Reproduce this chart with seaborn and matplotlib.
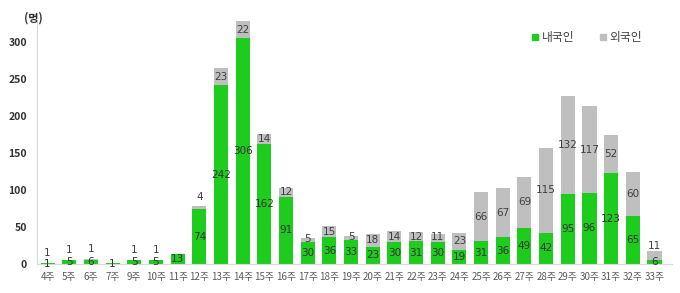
import matplotlib
matplotlib.use("Agg")
import matplotlib.pyplot as plt
import seaborn as sns
import pandas as pd
from matplotlib.lines import Line2D

weeks = ["4주", "5주", "6주", "7주", "9주", "10주", "11주", "12주", "13주", "14주",
         "15주", "16주", "17주", "18주", "19주", "20주", "21주", "22주", "23주", "24주",
         "25주", "26주", "27주", "28주", "29주", "30주", "31주", "32주", "33주"]
domestic = [1, 5, 6, 1, 5, 5, 13, 74, 242, 306,
            162, 91, 30, 36, 33, 23, 30, 31, 30, 19,
            31, 36, 49, 42, 95, 96, 123, 65, 6]
foreign = [1, 1, 1, 0, 1, 1, 0, 4, 23, 22,
           14, 12, 5, 15, 5, 18, 14, 12, 11, 23,
           66, 67, 69, 115, 132, 117, 52, 60, 11]

sns.set_theme(style="white")
plt.rcParams["font.family"] = ["Noto Sans CJK KR", "DejaVu Sans"]

GREEN = "#1ECC1E"
GRAY = "#BFBFBF"

df = pd.DataFrame({"week": weeks, "domestic": domestic, "foreign": foreign})
df["total"] = df["domestic"] + df["foreign"]

fig = plt.figure(figsize=(6.8, 2.93), dpi=100)
ax = fig.add_axes([0.054, 0.099, 0.934, 0.833])

sns.barplot(data=df, x="week", y="total", order=weeks, color=GRAY, width=0.65,
            saturation=1, ax=ax, linewidth=0)
sns.barplot(data=df, x="week", y="domestic", order=weeks, color=GREEN, width=0.65,
            saturation=1, ax=ax, linewidth=0)

lab_color = "#404040"
for i, (d, f) in enumerate(zip(domestic, foreign)):
    if d > 0:
        ax.text(i, d / 2, str(d), ha="center", va="center", fontsize=7.5,
                color="#333333", family=["DejaVu Sans"])
    if f > 0:
        if f < 5:
            y = d + f + 13
        elif d < 10:
            y = d + f + 7
        elif f < 12:
            y = d + f * 0.65
        else:
            y = d + f / 2
        ax.text(i, y, str(f), ha="center", va="center", fontsize=7.5,
                color=lab_color, family=["DejaVu Sans"])

ax.set_ylim(0, 330)
ax.set_xlim(-0.5, len(weeks) - 0.2)
ax.set_yticks([0, 50, 100, 150, 200, 250, 300])
ax.set_xlabel("")
ax.set_ylabel("")
for s in ["top", "right"]:
    ax.spines[s].set_visible(False)
for s in ["left", "bottom"]:
    ax.spines[s].set_color("#D9D9D9")
    ax.spines[s].set_linewidth(0.8)
ax.tick_params(axis="x", labelsize=7, colors="#595959", length=0, pad=6)
ax.tick_params(axis="y", labelsize=7.5, colors="#333333", length=0, pad=7)
for t in ax.get_yticklabels():
    t.set_fontweight("bold")

fig.text(0.036, 0.94, "(명)", fontsize=8, fontweight="bold", color="#333333",
         ha="left", va="center")

handles = [Line2D([0], [0], marker="s", color="none", markerfacecolor=GREEN,
                  markeredgecolor=GREEN, markersize=5, label="내국인"),
           Line2D([0], [0], marker="s", color="none", markerfacecolor=GRAY,
                  markeredgecolor=GRAY, markersize=5, label="외국인")]
leg = fig.legend(handles=handles, loc="center", bbox_to_anchor=(0.862, 0.873),
                 ncol=2, frameon=False, fontsize=8.5, handletextpad=0.2,
                 columnspacing=2.0, handlelength=0.8)
for t in leg.get_texts():
    t.set_color("#404040")

fig.savefig("out.png", dpi=100)
